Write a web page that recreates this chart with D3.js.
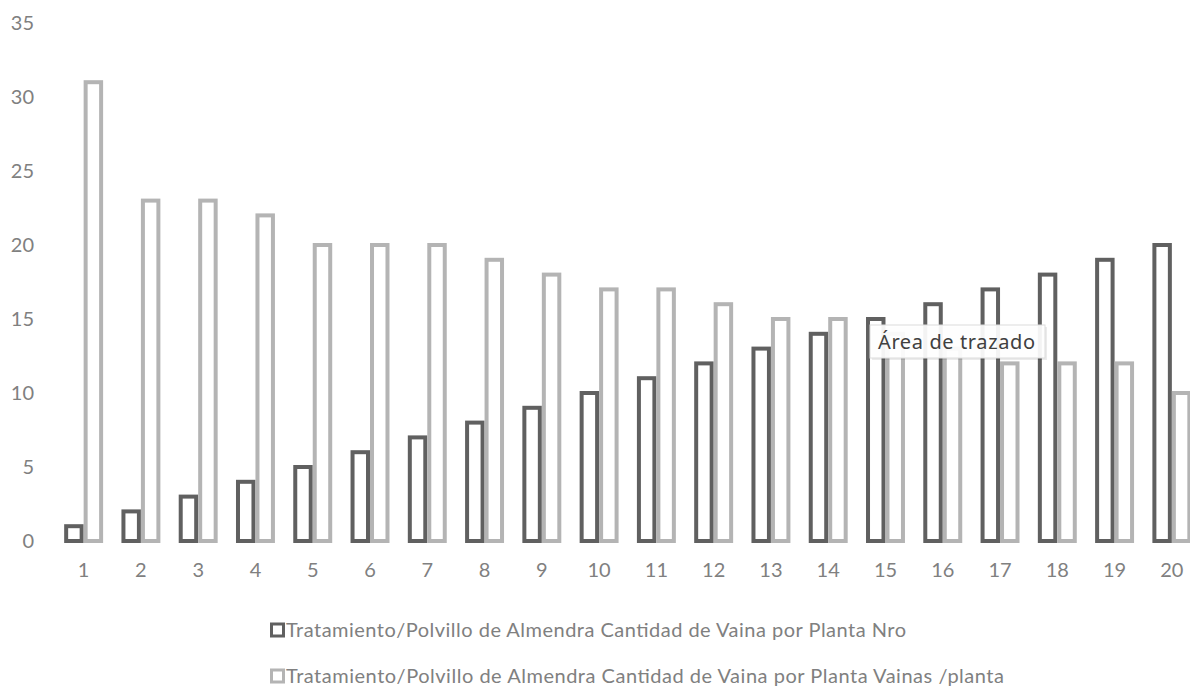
<!DOCTYPE html>
<html>
<head>
<meta charset="utf-8">
<script src="https://cdn.jsdelivr.net/npm/d3@7"></script>
<style>
  html, body { margin: 0; padding: 0; background: #fff; overflow: hidden; }
  svg { display: block; }
</style>
</head>
<body>
<svg id="chart" width="1190" height="688"></svg>
<script>
// Plant number (category) and the two measured series
const categories = ["1","2","3","4","5","6","7","8","9","10","11","12","13","14","15","16","17","18","19","20"];
const seriesNro = [1,2,3,4,5,6,7,8,9,10,11,12,13,14,15,16,17,18,19,20];
const seriesVainas = [31,23,23,22,20,20,20,19,18,17,17,16,15,15,14,13,12,12,12,10];
const seriesNames = [
  "Tratamiento/Polvillo de Almendra Cantidad de Vaina por Planta Nro",
  "Tratamiento/Polvillo de Almendra Cantidad de Vaina por Planta Vainas /planta"
];
const yTicks = [0,5,10,15,20,25,30,35];

const colors = ["#606060", "#b4b4b4"];
const fontFam = "Lato, 'Open Sans', sans-serif";
const svg = d3.select("#chart");

const x = d3.scaleBand().domain(categories).range([55, 1200.5]).paddingInner(0.32).paddingOuter(0.16);
const xSub = d3.scaleBand().domain([0, 1]).range([0, x.bandwidth()]);
const y = d3.scaleLinear().domain([0, 35]).range([541, 23]);

// Y axis labels (no axis line, no gridlines)
const yAxis = d3.axisLeft(y).tickValues(yTicks).tickSize(0).tickPadding(0);
const gy = svg.append("g").attr("transform", "translate(34,0)").call(yAxis);
gy.select(".domain").remove();
gy.selectAll("text").attr("fill", "#808080").style("font-family", fontFam).style("font-size", "20px");

// X axis labels
const xAxis = d3.axisBottom(x).tickSize(0).tickPadding(0);
const gx = svg.append("g").attr("transform", "translate(0,563)").call(xAxis);
gx.select(".domain").remove();
gx.selectAll("text").attr("fill", "#808080").style("font-family", fontFam).style("font-size", "20px");

// Outlined bars
const sw = 4;
const groups = svg.append("g").selectAll("g")
  .data(categories.map((c, i) => ({ c, vals: [seriesNro[i], seriesVainas[i]] })))
  .join("g")
  .attr("transform", d => `translate(${x(d.c)},0)`);

groups.selectAll("rect")
  .data(d => d.vals.map((v, k) => ({ v, k })))
  .join("rect")
  .attr("x", d => xSub(d.k) + sw / 2)
  .attr("width", xSub.bandwidth() - sw)
  .attr("y", d => y(d.v))
  .attr("height", d => y(0) - y(d.v))
  .attr("fill", "#fff")
  .attr("stroke", d => colors[d.k])
  .attr("stroke-width", sw);

// Legend
const legend = svg.append("g");
const legY = [630, 676];
const legWidths = [620, 718];
seriesNames.forEach((name, i) => {
  legend.append("rect")
    .attr("x", 271.5).attr("y", legY[i] - 6)
    .attr("width", 12).attr("height", 12)
    .attr("fill", "#fff").attr("stroke", colors[i]).attr("stroke-width", 3);
  legend.append("text")
    .attr("x", 286).attr("y", legY[i]).attr("dy", "0.35em")
    .attr("fill", "#808080")
    .attr("textLength", legWidths[i]).attr("lengthAdjust", "spacing")
    .style("font-family", fontFam).style("font-size", "20px")
    .text(name);
});

// Hover tooltip for the plot area
const tip = svg.append("g").attr("transform", "translate(870,325)");
tip.append("rect").attr("x", 2).attr("y", 2).attr("width", 175).attr("height", 33)
  .attr("fill", "#000").attr("opacity", 0.08);
tip.append("rect").attr("width", 175).attr("height", 33)
  .attr("fill", "#fff").attr("fill-opacity", 0.93)
  .attr("stroke", "#dcdcdc").attr("stroke-width", 1);
tip.append("text").attr("x", 8).attr("y", 17).attr("dy", "0.35em")
  .attr("fill", "#404040")
  .attr("textLength", 157).attr("lengthAdjust", "spacing")
  .style("font-family", "'Noto Sans', 'Open Sans', sans-serif").style("font-size", "20px")
  .text("Área de trazado");
</script>
</body>
</html>
